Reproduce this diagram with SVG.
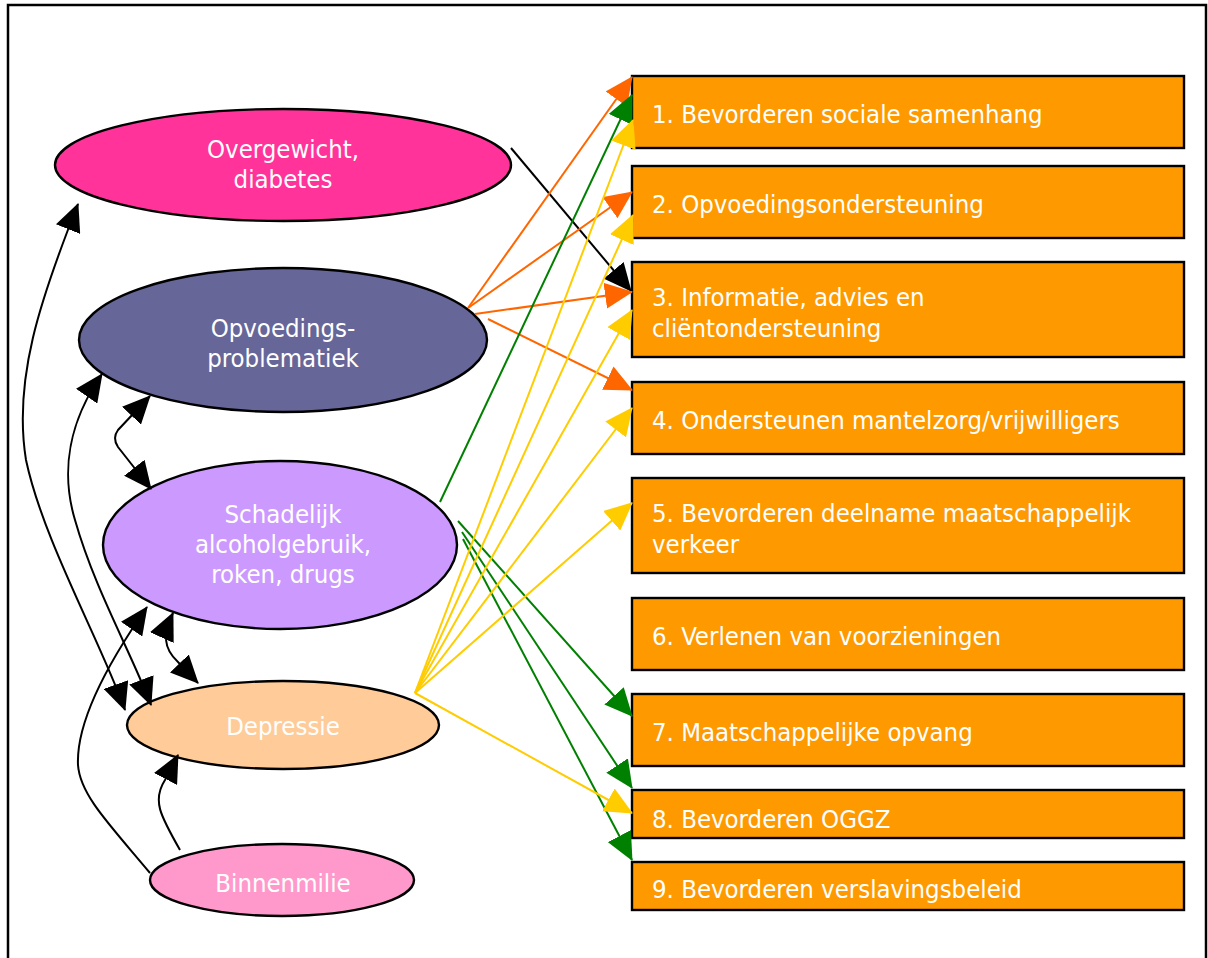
<svg xmlns="http://www.w3.org/2000/svg" width="1208" height="958" viewBox="0 0 1208 958">
<style>
.frame{fill:#fff;stroke:#000;stroke-width:2.5}
.ell{stroke:#000;stroke-width:2.4}
.box{fill:#FF9900;stroke:#000;stroke-width:2.4}
.t{font-family:"DejaVu Sans Condensed","Liberation Sans",sans-serif;font-size:25.5px;fill:#fff}
.c{text-anchor:middle}
.k{fill:none;stroke:#000;stroke-width:2}
.o{fill:none;stroke:#FF6600;stroke-width:2}
.g{fill:none;stroke:#008000;stroke-width:2}
.y{fill:none;stroke:#FFCC00;stroke-width:2}
</style>
<defs>
<marker id="ak" viewBox="0 0 28 26" refX="27" refY="13" markerWidth="28" markerHeight="26" markerUnits="userSpaceOnUse" orient="auto-start-reverse"><path d="M0,0 L28,13 L0,26 z" fill="#000"/></marker>
<marker id="ao" viewBox="0 0 28 26" refX="27" refY="13" markerWidth="28" markerHeight="26" markerUnits="userSpaceOnUse" orient="auto"><path d="M0,0 L28,13 L0,26 z" fill="#FF6600"/></marker>
<marker id="ag" viewBox="0 0 28 26" refX="27" refY="13" markerWidth="28" markerHeight="26" markerUnits="userSpaceOnUse" orient="auto"><path d="M0,0 L28,13 L0,26 z" fill="#008000"/></marker>
<marker id="ay" viewBox="0 0 28 26" refX="27" refY="13" markerWidth="28" markerHeight="26" markerUnits="userSpaceOnUse" orient="auto"><path d="M0,0 L28,13 L0,26 z" fill="#FFCC00"/></marker>
</defs>
<rect class="frame" x="8" y="5" width="1198" height="1000"/>

<g id="n-overgewicht">
<ellipse class="ell" cx="283" cy="165" rx="228" ry="56" fill="#FF3399"/>
<text class="t c" x="283" y="158">Overgewicht,</text>
<text class="t c" x="283" y="188">diabetes</text>
</g>
<g id="n-opvoedings">
<ellipse class="ell" cx="283" cy="340" rx="204" ry="72" fill="#666699"/>
<text class="t c" x="283" y="337">Opvoedings-</text>
<text class="t c" x="283" y="367">problematiek</text>
</g>
<g id="n-schadelijk">
<ellipse class="ell" cx="280" cy="545" rx="177" ry="84" fill="#CC99FF"/>
<text class="t c" x="283" y="523">Schadelijk</text>
<text class="t c" x="283" y="553">alcoholgebruik,</text>
<text class="t c" x="283" y="583">roken, drugs</text>
</g>
<g id="n-depressie">
<ellipse class="ell" cx="283" cy="725" rx="156" ry="44" fill="#FFCC99"/>
<text class="t c" x="283" y="735">Depressie</text>
</g>
<g id="n-binnenmilie">
<ellipse class="ell" cx="282" cy="880" rx="132" ry="36" fill="#FF99CC"/>
<text class="t c" x="283" y="892">Binnenmilie</text>
</g>

<g id="b1"><rect class="box" x="632" y="76" width="552" height="72"/><text class="t" x="652" y="123">1. Bevorderen sociale samenhang</text></g>
<g id="b2"><rect class="box" x="632" y="166" width="552" height="72"/><text class="t" x="652" y="213">2. Opvoedingsondersteuning</text></g>
<g id="b3"><rect class="box" x="632" y="262" width="552" height="95"/><text class="t" x="652" y="306">3. Informatie, advies en</text><text class="t" x="652" y="337">cliëntondersteuning</text></g>
<g id="b4"><rect class="box" x="632" y="382" width="552" height="72"/><text class="t" x="652" y="429">4. Ondersteunen mantelzorg/vrijwilligers</text></g>
<g id="b5"><rect class="box" x="632" y="478" width="552" height="95"/><text class="t" x="652" y="522">5. Bevorderen deelname maatschappelijk</text><text class="t" x="652" y="553">verkeer</text></g>
<g id="b6"><rect class="box" x="632" y="598" width="552" height="72"/><text class="t" x="652" y="645">6. Verlenen van voorzieningen</text></g>
<g id="b7"><rect class="box" x="632" y="694" width="552" height="72"/><text class="t" x="652" y="741">7. Maatschappelijke opvang</text></g>
<g id="b8"><rect class="box" x="632" y="790" width="552" height="48"/><text class="t" x="652" y="828">8. Bevorderen OGGZ</text></g>
<g id="b9"><rect class="box" x="632" y="862" width="552" height="48"/><text class="t" x="652" y="898">9. Bevorderen verslavingsbeleid</text></g>

<g id="connectors">
<path class="k" d="M78,204 C40,300 13,380 26,460 C43,540 100,640 125,710" marker-start="url(#ak)" marker-end="url(#ak)"/>
<path class="k" d="M102,374 C70,420 60,470 75,520 C95,590 130,650 151,705" marker-start="url(#ak)" marker-end="url(#ak)"/>
<path class="k" d="M150,396 L118,430 Q112,438 118,447 L151,489" marker-start="url(#ak)" marker-end="url(#ak)"/>
<path class="k" d="M173,613 C163,635 163,648 178,662 L198,683" marker-start="url(#ak)" marker-end="url(#ak)"/>
<path class="k" d="M150,873 C110,825 80,795 78,765 C76,720 110,660 147,607" marker-end="url(#ak)"/>
<path class="k" d="M180,850 C160,815 152,800 165,780 L178,755" marker-end="url(#ak)"/>
<path class="k" d="M511,148 L631,291" marker-end="url(#ak)"/>
<path class="o" d="M468,308 L632,77" marker-end="url(#ao)"/>
<path class="o" d="M468,308 L632,192" marker-end="url(#ao)"/>
<path class="o" d="M475,314 L632,292" marker-end="url(#ao)"/>
<path class="o" d="M488,319 L632,390" marker-end="url(#ao)"/>
<path class="g" d="M440,502 L632,95" marker-end="url(#ag)"/>
<path class="g" d="M458,521 L632,716" marker-end="url(#ag)"/>
<path class="g" d="M462,532 L632,788" marker-end="url(#ag)"/>
<path class="g" d="M463,539 L632,860" marker-end="url(#ag)"/>
<path class="y" d="M415,693 L633,120" marker-end="url(#ay)"/>
<path class="y" d="M415,693 L633,215" marker-end="url(#ay)"/>
<path class="y" d="M415,693 L632,310" marker-end="url(#ay)"/>
<path class="y" d="M415,693 L632,408" marker-end="url(#ay)"/>
<path class="y" d="M415,693 L632,503" marker-end="url(#ay)"/>
<path class="y" d="M415,693 L632,813" marker-end="url(#ay)"/>
</g>
</svg>
